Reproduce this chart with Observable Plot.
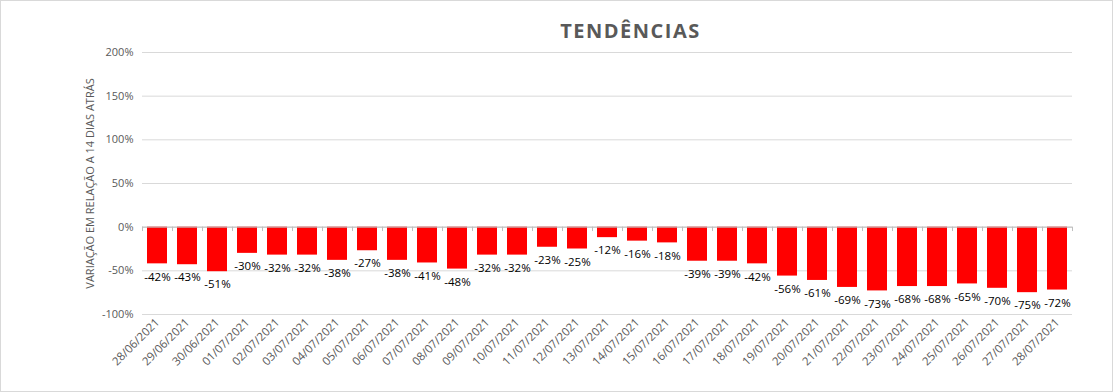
<!DOCTYPE html>
<html>
<head>
<meta charset="utf-8">
<script src="https://cdn.jsdelivr.net/npm/d3@7"></script>
<script src="https://cdn.jsdelivr.net/npm/@observablehq/plot@0.6"></script>
<style>
  html, body { margin: 0; padding: 0; background: #fff; }
  #frame { position: relative; width: 1111px; height: 390px; border: 1px solid #d9d9d9; overflow: hidden; }
  #title { position: absolute; left: 0; width: 100%; top: 16px; text-align: center;
           font-family: "Open Sans", sans-serif; font-weight: bold; font-size: 20px;
           letter-spacing: 1.5px; color: #595959; padding-left: 148px; box-sizing: border-box; }
  #chart svg { display: block; }
</style>
</head>
<body>
<div id="frame">
  <div id="chart"></div>
  <div id="title">TENDÊNCIAS</div>
</div>
<script>
const dates = ["28/06/2021","29/06/2021","30/06/2021","01/07/2021","02/07/2021","03/07/2021","04/07/2021","05/07/2021","06/07/2021","07/07/2021","08/07/2021","09/07/2021","10/07/2021","11/07/2021","12/07/2021","13/07/2021","14/07/2021","15/07/2021","16/07/2021","17/07/2021","18/07/2021","19/07/2021","20/07/2021","21/07/2021","22/07/2021","23/07/2021","24/07/2021","25/07/2021","26/07/2021","27/07/2021","28/07/2021"];
const values = [-42,-43,-51,-30,-32,-32,-38,-27,-38,-41,-48,-32,-32,-23,-25,-12,-16,-18,-39,-39,-42,-56,-61,-69,-73,-68,-68,-65,-70,-75,-72];
const yTicks = [-1, -0.5, 0, 0.5, 1, 1.5, 2];
const yLabel = "VARIAÇÃO EM RELAÇÃO A 14 DIAS ATRÁS";

const data = dates.map((d, i) => ({date: d, v: values[i] / 100, label: values[i] + "%"}));
const font = "'Open Sans', sans-serif";

const chart = Plot.plot({
  width: 1111,
  height: 390,
  marginLeft: 141,
  marginRight: 40,
  marginTop: 51,
  marginBottom: 77,
  style: {fontFamily: font, fontSize: "11px", color: "#595959", background: "white"},
  x: {domain: dates, paddingInner: 1/3, paddingOuter: 1/6},
  y: {domain: [-1, 2]},
  marks: [
    Plot.ruleY(yTicks, {stroke: "#d9d9d9", strokeWidth: 1}),
    Plot.barY(data, {x: "date", y: "v", fill: "#ff0000"}),
    Plot.ruleY([0], {stroke: "#bfbfbf", strokeWidth: 1}),
    Plot.ruleX(dates, {x: d => d, y1: 0, y2: -0.05, dx: -15, stroke: "#bfbfbf"}),
    Plot.ruleX(dates.slice(-1), {x: d => d, y1: 0, y2: -0.05, dx: 15, stroke: "#bfbfbf"}),
    Plot.text(data, {x: "date", y: "v", text: "label", dy: 13, fill: "black", fontSize: 11.5}),
    Plot.axisY({ticks: yTicks, tickFormat: d => Math.round(d * 100) + "%", tickSize: 0, tickPadding: 9, label: null, fontSize: 11, fill: "#595959"}),
    Plot.axisX({tickRotate: -45, tickSize: 0, tickPadding: 6, label: null, fontSize: 11.5, fill: "#595959"}),
    Plot.text([yLabel], {frameAnchor: "left", textAnchor: "middle", rotate: -90, dx: -52, fill: "#595959", fontSize: 11})
  ]
});
document.getElementById("chart").appendChild(chart);
</script>
</body>
</html>
